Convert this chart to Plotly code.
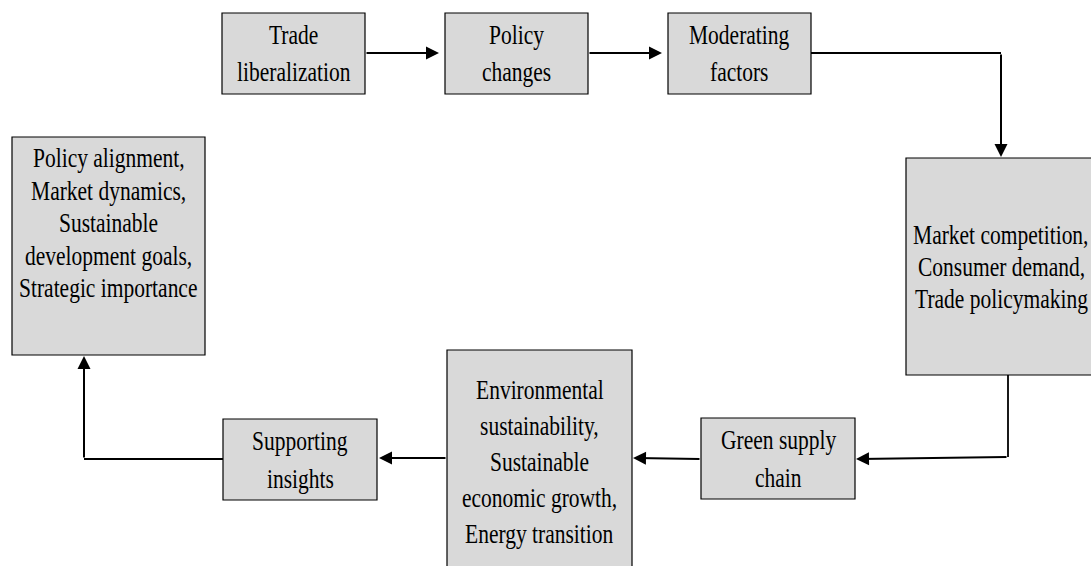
import plotly.graph_objects as go

# ---- content (text of each node, one entry per line) ----
node_names = ["trade", "policy", "moderating", "market", "green",
              "environment", "insights", "alignment"]
node_lines = [
    ["Trade", "liberalization"],
    ["Policy", "changes"],
    ["Moderating", "factors"],
    ["Market competition,", "Consumer demand,", "Trade policymaking"],
    ["Green supply", "chain"],
    ["Environmental", "sustainability,", "Sustainable", "economic growth,", "Energy transition"],
    ["Supporting", "insights"],
    ["Policy alignment,", "Market dynamics,", "Sustainable", "development goals,", "Strategic importance"],
]

# ---- layout geometry (pixel-like canvas coordinates) ----
W, H = 1091, 566
box_x0 = [222, 445, 668, 906, 701, 447, 223, 12]
box_x1 = [365, 588, 811, 1096, 855, 632, 377, 205]
box_y0 = [13, 13, 13, 158, 418, 350, 419, 137]
box_y1 = [94, 94, 94, 375, 499, 575, 500, 355]
text_cy = [53.5, 53.5, 53.5, 267, 458.5, 462, 459.5, 223]
line_gap = [37, 37, 37, 32, 38, 36, 38, 32.5]

FONT = dict(family="Liberation Serif", size=21.5, color="black")

fig = go.Figure()
fig.add_trace(go.Scatter(x=[0, W], y=[0, H], mode="markers",
                         marker=dict(opacity=0), hoverinfo="skip", showlegend=False))

shapes = []
annotations = []
for i, lines in enumerate(node_lines):
    shapes.append(dict(type="rect", xref="x", yref="y",
                       x0=box_x0[i], x1=box_x1[i], y0=box_y0[i], y1=box_y1[i],
                       fillcolor="#d9d9d9", line=dict(color="black", width=1.2),
                       layer="below"))
    n = len(lines)
    cx = (box_x0[i] + box_x1[i]) / 2
    for k, ln in enumerate(lines):
        y = text_cy[i] + (k - (n - 1) / 2) * line_gap[i]
        annotations.append(dict(x=cx, y=y, xref="x", yref="y", text=ln,
                                showarrow=False, font=FONT,
                                xanchor="center", yanchor="middle"))

# connector polyline segments (no heads)
segments = [
    (811, 53, 1001, 53),
    (1008, 375, 1008, 457),
    (223, 459, 84, 459),
]
for (xa, ya, xb, yb) in segments:
    shapes.append(dict(type="line", xref="x", yref="y", x0=xa, y0=ya, x1=xb, y1=yb,
                       line=dict(color="black", width=1.8)))

# arrows: (tail_x, tail_y, head_x, head_y)
arrows = [
    (365, 53, 439, 53),
    (588, 53, 662, 53),
    (1001, 53, 1001, 157),
    (1008, 457, 856, 459),
    (701, 459, 633, 458),
    (447, 458, 379, 458),
    (84, 459, 84, 356),
]
for (tx, ty, hx, hy) in arrows:
    annotations.append(dict(x=hx, y=hy, ax=tx, ay=ty, xref="x", yref="y",
                            axref="x", ayref="y", text="", showarrow=True,
                            arrowhead=2, arrowsize=1.3, arrowwidth=2,
                            arrowcolor="black"))

fig.update_layout(
    width=W, height=H,
    margin=dict(l=0, r=0, t=0, b=0),
    paper_bgcolor="white", plot_bgcolor="white",
    xaxis=dict(range=[0, W], visible=False, fixedrange=True),
    yaxis=dict(range=[H, 0], visible=False, fixedrange=True),
    shapes=shapes, annotations=annotations, showlegend=False,
)

post = """
var s = document.createElement('style');
s.textContent = 'body{margin:0;overflow:hidden;} ' +
  '.annotation-text{transform-box:fill-box;transform-origin:center;transform:scaleY(1.25);}';
document.head.appendChild(s);
"""
fig.write_html("out.html", post_script=post, config={"displayModeBar": False})
